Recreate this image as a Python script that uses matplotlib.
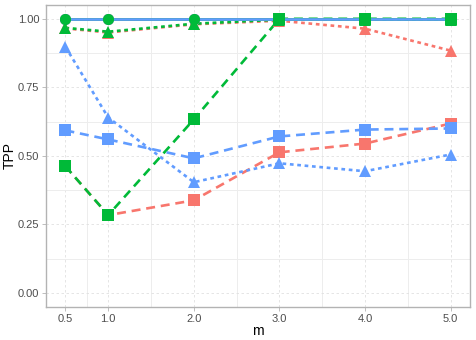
import matplotlib.pyplot as plt
import numpy as np
from matplotlib.ticker import FixedLocator

plt.rcParams['font.family'] = ['Liberation Sans', 'DejaVu Sans']

# m values on the x axis
m_values = [0.5, 1.0, 2.0, 3.0, 4.0, 5.0]

# TPP for each method (colour) and setting (shape / linetype)
red_circle = [1.0, 1.0, 1.0, 1.0, 1.0, 1.0]
red_square = [0.462, 0.284, 0.338, 0.513, 0.545, 0.618]
red_triangle = [0.965, 0.950, 0.980, 0.993, 0.964, 0.884]

green_circle = [1.0, 1.0, 1.0, 1.0, 1.0, 1.0]
green_square = [0.462, 0.284, 0.633, 1.0, 1.0, 1.0]
green_triangle = [0.967, 0.953, 0.982, 0.997, 0.997, 0.997]

blue_circle = [1.0, 1.0, 1.0, 1.0, 1.0, 1.0]
blue_square = [0.593, 0.560, 0.491, 0.571, 0.596, 0.600]
blue_triangle = [0.898, 0.640, 0.404, 0.473, 0.444, 0.505]

x_ticks = [0.5, 1.0, 2.0, 3.0, 4.0, 5.0]
y_ticks = [0.0, 0.25, 0.5, 0.75, 1.0]

red = '#F8766D'
green = '#00BA38'
blue = '#619CFF'

series = [
    (red, red_circle, red_square, red_triangle),
    (green, green_circle, green_square, green_triangle),
    (blue, blue_circle, blue_square, blue_triangle),
]

fig = plt.figure(figsize=(4.76, 3.40), dpi=100)
ax = fig.add_axes([0.097, 0.098, 0.890, 0.887])

lw = 1.9
# lines first (like ggplot layers)
for color, circ, sq, tri in series:
    ax.plot(m_values, circ, color=color, lw=lw, linestyle='-', zorder=2,
            solid_capstyle='butt')
    ax.plot(m_values, sq, color=color, lw=lw, linestyle=(0, (3.4, 2.2)), zorder=2)
    ax.plot(m_values, tri, color=color, lw=lw, linestyle=(0, (1.4, 1.4)), zorder=2)

# points on top, green last
for color, circ, sq, tri in [series[0], series[2], series[1]]:
    ax.plot(m_values, circ, 'o', color=color, markersize=8, zorder=3,
            markeredgewidth=0)
    ax.plot(m_values, tri, '^', color=color, markersize=9, zorder=3,
            markeredgewidth=0)
    ax.plot(m_values, sq, 's', color=color, markersize=8, zorder=3,
            markeredgewidth=0)

ax.set_xlim(0.275, 5.225)
ax.set_ylim(-0.05, 1.05)

ax.set_xticks(x_ticks)
ax.set_xticklabels(['%.1f' % v for v in x_ticks])
ax.set_yticks(y_ticks)
ax.set_yticklabels(['%.2f' % v for v in y_ticks])
ax.xaxis.set_minor_locator(FixedLocator([0.75, 1.5, 2.5, 3.5, 4.5]))
ax.yaxis.set_minor_locator(FixedLocator([0.125, 0.375, 0.625, 0.875]))

ax.grid(True, which='major', color='#E0E0E0', linestyle=(0, (3, 3)), lw=0.6)
ax.grid(True, which='minor', color='#EDEDED', linestyle='-', lw=0.7)
ax.set_axisbelow(True)

ax.tick_params(which='major', length=3, width=0.6, color='#B3B3B3',
               labelcolor='#4D4D4D', labelsize=8, pad=2)
ax.tick_params(which='minor', length=0)
for s in ax.spines.values():
    s.set_color('#B3B3B3')
    s.set_linewidth(1.0)

ax.set_xlabel('m', fontsize=10, labelpad=0)
ax.set_ylabel('TPP', fontsize=10, labelpad=1)

fig.savefig('out.png', dpi=100)
